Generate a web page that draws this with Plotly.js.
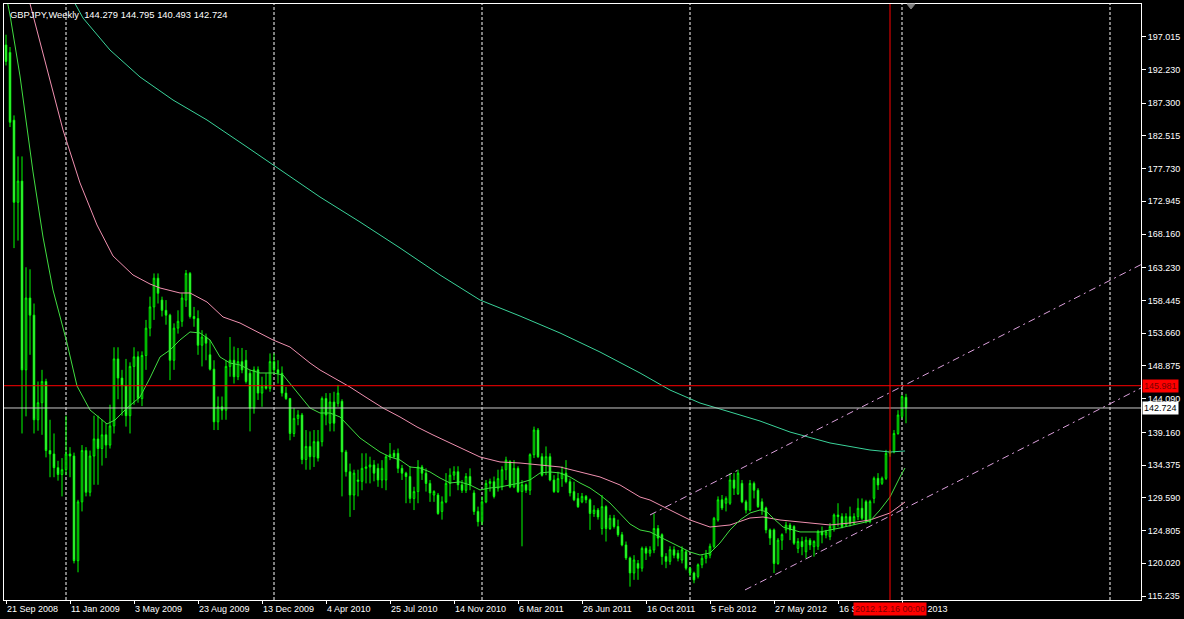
<!DOCTYPE html>
<html>
<head>
<meta charset="utf-8">
<script src="https://cdn.plot.ly/plotly-3.0.1.min.js"></script>
<style>
html,body{margin:0;padding:0;background:#000;}
#chart{width:1184px;height:619px;}
</style>
</head>
<body>
<div id="chart"></div>
<script>
// ---- Weekly GBPJPY candles (bar 0 = week of 21 Sep 2008) ----
const openP = [
195.8,194.7,184.8,172.8,175.9,148.3,158.8,156.3,141.0,143.5,
146.6,136.5,136.0,134.0,133.0,133.7,136.0,135.7,120.4,129.0,
136.5,130.4,135.7,138.2,136.8,138.8,137.3,140.1,149.9,147.1,
146.0,141.6,148.8,150.2,144.1,150.4,154.4,157.5,161.7,158.5,
157.0,156.3,149.7,154.4,155.4,158.5,162.4,156.1,155.8,151.9,
153.1,150.5,148.4,140.7,142.9,142.4,148.8,149.7,147.3,149.5,
149.7,147.8,142.7,148.3,144.9,145.9,145.6,149.5,148.3,147.8,
144.9,144.1,139.0,141.2,141.7,135.2,137.1,135.6,137.8,137.8,
144.1,140.5,143.6,143.4,143.7,136.3,133.4,130.0,132.2,132.0,
133.9,134.1,134.4,133.9,132.2,132.2,135.6,136.1,136.1,133.9,
133.2,132.7,129.5,130.5,134.1,133.2,131.7,130.0,130.0,127.6,
129.0,131.7,132.9,133.4,131.5,130.7,132.7,130.3,127.6,126.1,
129.0,131.7,131.95,131.0,131.2,133.7,134.9,131.2,133.9,130.5,
131.5,130.7,135.9,139.5,135.6,134.4,135.6,132.2,130.5,132.4,
133.2,131.95,130.5,129.5,129.0,129.8,129.3,127.3,127.8,125.1,
128.3,125.1,126.6,125.4,124.2,122.7,120.8,118.6,120.0,119.3,
122.2,121.5,121.97,125.1,124.2,121.0,120.3,122.0,121.5,120.5,
121.7,119.3,118.6,118.1,119.8,120.75,121.2,122.5,126.35,129.3,
128.8,128.8,132.2,130.2,131.7,129.0,127.8,131.7,130.7,129.0,
128.1,124.9,124.9,120.0,123.4,124.9,125.6,125.4,122.2,123.2,
121.7,123.4,122.45,122.5,124.65,124.16,123.9,125.13,127.08,126.84,
125.62,126.84,125.86,126.84,128.06,129.03,126.11,129.52,132.44,131.71,
132.44,136.1,136.3,139.0,141.5,144.279];
const highP = [
197.3,195.5,185.5,179.5,179.5,163.3,163.0,158.0,146.6,148.3,
147.0,141.0,139.0,135.0,135.4,141.6,137.0,136.2,129.3,137.3,
137.0,136.5,141.6,141.6,141.0,140.5,143.2,151.6,151.6,148.3,
149.9,149.4,151.6,151.0,151.0,155.6,159.0,162.4,162.4,159.0,
158.5,156.5,155.1,157.0,159.5,162.9,162.6,157.5,157.0,154.1,
153.6,152.7,149.7,144.4,144.4,149.7,153.1,151.7,151.5,151.5,
151.2,148.3,148.8,148.8,147.3,147.8,150.7,150.7,149.7,148.8,
145.8,144.2,142.7,142.4,142.0,139.5,139.3,139.5,139.5,144.4,
144.9,144.9,145.1,146.1,144.0,136.6,134.6,133.7,133.7,136.1,
136.1,135.6,135.1,134.6,135.1,135.9,137.6,136.6,136.8,134.4,
133.4,134.2,131.2,135.1,134.4,133.9,132.2,130.7,130.3,129.8,
133.2,133.9,134.2,134.2,132.2,133.2,133.9,130.7,128.3,129.8,
132.2,132.4,132.7,133.7,134.2,135.6,135.1,135.1,134.2,132.2,
131.7,136.1,140.0,139.8,136.1,137.1,136.1,132.9,133.4,134.2,
135.1,132.4,131.95,130.3,130.3,130.0,129.5,128.5,128.1,130.0,
128.5,127.1,127.1,126.4,124.6,123.2,121.0,121.2,120.5,122.46,
122.5,122.5,127.3,125.6,124.4,121.5,122.5,122.5,121.97,122.5,
121.97,119.5,118.8,120.0,121.2,121.97,122.9,126.8,129.8,130.0,
129.8,133.2,133.2,133.7,132.2,129.3,132.2,131.97,131.0,129.5,
128.3,125.1,125.1,123.7,124.4,126.1,125.9,125.6,123.7,123.9,
123.9,123.7,123.4,124.9,125.4,124.9,125.9,127.3,128.8,127.33,
127.33,128.3,127.33,129.5,129.5,129.3,129.3,132.7,133.2,132.7,
136.6,136.6,139.5,142.4,144.6,144.795];
const lowP = [
192.8,183.8,166.1,167.2,139.0,141.5,150.5,139.0,139.4,138.8,
135.5,132.6,132.6,132.1,129.8,132.9,132.6,120.0,118.7,127.6,
129.8,129.8,131.5,131.5,134.3,135.4,136.8,139.0,144.0,141.6,
140.0,139.0,143.2,143.5,143.0,148.3,153.2,155.6,158.0,156.1,
154.9,146.8,148.3,153.6,154.6,157.5,155.8,154.6,150.5,148.8,
149.7,148.2,139.5,139.5,141.0,141.0,147.3,146.3,146.8,147.8,
146.3,139.3,141.9,143.9,142.9,145.4,145.1,147.8,146.3,144.4,
143.9,138.0,138.5,140.2,134.5,133.7,133.7,134.1,134.9,137.1,
140.2,139.3,139.3,142.9,129.8,132.7,126.8,127.8,129.8,130.7,
131.7,131.7,132.0,131.2,131.0,130.7,135.1,135.4,133.2,132.2,
128.8,128.8,127.8,128.8,132.2,130.5,129.0,129.0,127.1,126.4,
128.8,129.8,132.2,130.7,130.3,130.3,130.7,127.1,125.4,125.6,
128.8,130.5,129.5,130.5,130.7,132.2,131.0,131.0,130.3,122.5,
130.3,130.0,135.4,135.4,132.7,132.9,132.0,130.3,130.3,131.2,
131.7,129.8,129.1,128.1,128.8,128.8,124.9,126.8,126.4,124.2,
123.2,124.9,125.1,123.9,122.5,120.5,116.6,117.6,117.6,118.8,
120.5,121.0,121.5,122.5,119.8,119.3,119.8,120.75,120.3,120.0,
119.0,118.1,117.1,117.8,119.3,120.0,120.75,122.2,126.1,127.8,
127.6,128.55,130.0,130.0,128.8,127.3,127.6,129.5,128.1,127.1,
124.4,122.7,118.6,119.8,121.97,124.4,123.4,122.7,121.5,121.2,
120.75,121.97,120.99,121.97,122.94,123.67,123.4,124.65,125.38,125.13,
125.38,125.38,125.6,126.35,126.35,125.86,125.86,128.79,130.74,131.47,
132.2,135.6,136.1,138.8,141.2,140.493];
const closeP = [
193.4,184.5,172.8,175.9,148.3,158.8,156.3,141.0,143.5,146.6,
136.5,136.0,134.0,133.0,133.7,136.0,135.7,120.4,129.0,136.5,
130.4,135.7,138.2,136.8,138.8,137.3,140.1,149.9,147.1,146.0,
141.6,148.8,150.2,144.1,150.4,154.4,157.5,161.7,159.5,157.0,
156.3,149.7,154.4,155.4,158.8,162.4,156.1,155.8,151.9,153.1,
152.2,148.4,140.7,142.9,142.4,148.8,149.7,147.3,149.5,148.3,
146.6,142.7,148.3,144.9,145.9,145.6,149.5,148.3,147.8,144.9,
144.1,139.0,141.2,141.7,135.2,137.1,135.6,137.8,135.4,144.1,
141.7,143.6,140.5,144.9,136.3,133.4,130.0,133.2,132.0,133.9,
134.1,134.4,133.2,132.2,133.9,135.6,135.9,135.6,133.9,133.2,
132.7,129.5,130.5,134.1,133.2,131.7,130.3,130.5,127.3,129.0,
131.7,132.9,133.4,131.5,130.7,132.7,131.5,127.6,126.1,129.0,
131.7,131.95,129.8,132.4,133.7,135.1,131.2,133.9,130.5,131.5,
130.7,135.9,139.5,135.6,132.9,135.6,132.2,130.5,132.4,133.2,
131.95,130.3,129.3,128.3,129.8,129.3,127.3,127.8,126.8,128.3,
125.1,126.6,125.4,124.2,122.7,120.8,118.6,120.5,119.3,122.2,
121.5,121.97,125.1,123.7,121.0,120.3,122.0,121.2,120.75,122.0,
119.3,118.6,117.6,119.8,120.75,121.2,122.5,126.6,129.3,128.1,
129.5,132.2,131.0,133.2,129.0,127.8,131.7,130.7,128.3,127.8,
124.9,123.7,120.0,123.4,124.2,125.6,124.9,122.95,123.2,122.45,
123.4,122.7,123.2,124.65,124.16,124.65,125.4,127.08,126.84,125.38,
126.84,125.86,126.84,128.06,126.6,126.11,129.03,132.44,131.47,132.44,
136.1,136.3,139.0,141.7,144.4,142.724];

// ---- Moving averages (bar index, price) ----
const maFastBars = [0.25,1,3.5,6.75,9.25,11.75,15.25,17.75,21,25.25,27.25,30.25,33.5,36,38.5,41,43.5,46,48.5,51,53.5,56,58.5,61,63.5,66.75,69.25,71.75,74.25,76,78.5,81,83.5,86,88.5,91,93.5,96,98.5,101,103.5,106,108.5,111,113.5,116,118.5,121,123.5,126,128.5,131,133.5,136,138.5,141,143.5,146,148.5,151,153.5,156,158.5,161,163.5,166,168.5,171,173.5,176,178.5,181,183.5,186,188.5,190.25,191.75,194.25,198.5,203.5,208.5,213.5,216,218.5,221,223.5,224.75];
const maFastVals = [202.4,200.18,191.26,177.23,167.72,159.97,152.23,145.94,142.43,140.39,140.97,142.72,144.33,147.11,150.18,151.20,152.67,153.84,153.69,152.67,150.18,149.30,149.01,148.28,147.84,147.84,147.55,145.79,143.89,142.72,141.99,141.99,141.41,139.80,138.34,137.31,136.29,135.56,135.12,134.10,133.95,133.37,132.49,131.76,131.91,131.47,130.74,131.03,131.17,131.47,131.76,132.20,133.22,133.37,133.22,132.64,131.76,131.03,130.00,128.83,127.37,125.76,124.89,124.60,123.86,123.13,122.40,121.67,121.23,121.52,122.99,124.89,126.35,127.37,127.81,127.52,126.64,125.32,124.60,124.60,125.18,125.91,126.20,127.81,129.71,132.64,133.95];
const maMidBars = [5.75,6.75,14.25,18.5,22.75,26.75,31.75,36,38.5,43.5,46,50.25,54.25,58.5,62.75,66.75,71,76,78.5,86,90.25,94.25,98.5,102.75,106.75,111,116,118.5,123.5,128.5,133.5,138.5,143.5,148.5,153.5,158.5,161,166,171,176,181,186,189.25,193.5,198.5,206,211,216,221,224.75];
const maMidVals = [202.4,200.18,183.37,175.62,169.48,164.95,162.17,160.85,160.27,159.54,159.54,158.22,156.03,155.15,153.83,152.67,151.64,149.30,148.28,145.79,144.19,142.72,141.41,139.95,138.78,137.61,136.29,135.56,134.83,134.68,134.39,134.10,133.37,132.64,131.47,129.71,129.27,127.81,126.35,125.32,125.62,126.64,126.79,126.35,126.06,125.62,125.91,126.35,127.37,128.98];
const maSlowBars = [16.75,19.25,26,33.5,41.75,50.25,60.25,68.5,78.5,88.5,98.5,108.5,118.5,128.5,138.5,148.5,158.5,166,173.5,181,188.5,196,206,216,221,224.75];
const maSlowVals = [202.4,199.74,195.06,191.12,187.75,184.83,180.88,177.52,173.57,169.92,166.12,162.17,158.51,156.17,153.69,150.91,147.84,145.35,143.45,142.14,140.82,139.21,137.61,136.58,136.29,136.44];

// ---- Channel trend lines (bar index, price) ----
const chanUpperBars = [161, 283.75];
const chanUpperVals = [127.08, 163.69];
const chanLowerBars = [184.75, 283.75];
const chanLowerVals = [116.12, 145.65];

// ---- Axes / labels ----
const titleText = 'GBPJPY,Weekly\u00a0\u00a0144.279 144.795 140.493 142.724';
const dateTickBars = [0,16,32,48,64,80,96,112,128,144,160,176,192,208,224];
const dateTickLabels = ['21 Sep 2008','11 Jan 2009','3 May 2009','23 Aug 2009','13 Dec 2009','4 Apr 2010','25 Jul 2010','14 Nov 2010','6 Mar 2011','26 Jun 2011','16 Oct 2011','5 Feb 2012','27 May 2012','16 Sep 2012','6 Jan 2013'];
const priceTicks = [115.235,120.020,124.805,129.590,134.375,139.160,144.090,148.875,153.660,158.445,163.230,168.160,172.945,177.730,182.515,187.300,192.230,197.015];
const yearSeparatorBars = [15,67,119,171,224,276];
const hLineLevel = 145.981;
const bidLevel = 142.724;
const vLineBar = 221;
const vLineLabel = '2012.12.16 00:00';
const chartShiftBar = 226.25;

const FONT = 'Liberation Sans, Arial, sans-serif';
const bars = openP.map((_, k) => k);

const traces = [
  {
    type: 'candlestick', x: bars, open: openP, high: highP, low: lowP, close: closeP,
    increasing: {line: {color: '#00ff00', width: 1}, fillcolor: '#000000'},
    decreasing: {line: {color: '#00ff00', width: 1}, fillcolor: '#b8ffb8'},
    whiskerwidth: 0, hoverinfo: 'skip', showlegend: false
  },
  {type: 'scatter', mode: 'lines', x: maSlowBars, y: maSlowVals, line: {color: '#3ad39a', width: 1}, hoverinfo: 'skip', showlegend: false},
  {type: 'scatter', mode: 'lines', x: maMidBars, y: maMidVals, line: {color: '#f090b0', width: 1}, hoverinfo: 'skip', showlegend: false},
  {type: 'scatter', mode: 'lines', x: maFastBars, y: maFastVals, line: {color: '#40dd40', width: 1}, hoverinfo: 'skip', showlegend: false},
  {type: 'scatter', mode: 'lines', x: chanUpperBars, y: chanUpperVals, line: {color: '#dca0dc', width: 1, dash: '7px,4px,2px,4px'}, hoverinfo: 'skip', showlegend: false},
  {type: 'scatter', mode: 'lines', x: chanLowerBars, y: chanLowerVals, line: {color: '#dca0dc', width: 1, dash: '7px,4px,2px,4px'}, hoverinfo: 'skip', showlegend: false}
];

const shapes = [];
yearSeparatorBars.forEach(b => shapes.push({
  type: 'line', xref: 'x', yref: 'paper', x0: b, x1: b, y0: 0, y1: 1,
  line: {color: '#ffffff', width: 1, dash: '3px,2px'}, layer: 'below'
}));
shapes.push({type: 'line', xref: 'paper', yref: 'y', x0: 0, x1: 1, y0: bidLevel, y1: bidLevel, line: {color: '#c8c8c8', width: 1}, layer: 'above'});
shapes.push({type: 'line', xref: 'paper', yref: 'y', x0: 0, x1: 1, y0: hLineLevel, y1: hLineLevel, line: {color: '#ff0000', width: 1}, layer: 'above'});
shapes.push({type: 'line', xref: 'x', yref: 'paper', x0: vLineBar, x1: vLineBar, y0: 0, y1: 1, line: {color: '#ff0000', width: 1}, layer: 'above'});
shapes.push({type: 'path', xref: 'x', yref: 'paper',
  path: 'M ' + (chartShiftBar - 1) + ',1 L ' + (chartShiftBar + 1) + ',1 L ' + chartShiftBar + ',0.9916 Z',
  fillcolor: '#808080', line: {color: '#808080', width: 1}, layer: 'above'});

const annotations = [
  {xref: 'paper', yref: 'paper', x: 0, y: 1, xanchor: 'left', yanchor: 'top', xshift: 4, yshift: -3,
   text: titleText, showarrow: false, font: {family: FONT, size: 9.4, color: '#ffffff'}},
  {xref: 'paper', yref: 'y', x: 1, y: hLineLevel, xanchor: 'left', yanchor: 'middle', xshift: 1,
   text: hLineLevel.toFixed(3), showarrow: false, bgcolor: '#ff0000', borderpad: 1,
   font: {family: FONT, size: 9, color: '#7a0000'}},
  {xref: 'paper', yref: 'y', x: 1, y: bidLevel, xanchor: 'left', yanchor: 'middle', xshift: 1,
   text: bidLevel.toFixed(3), showarrow: false, bgcolor: '#ffffff', borderpad: 1,
   font: {family: FONT, size: 9, color: '#000000'}},
  {xref: 'x', yref: 'paper', x: vLineBar, y: 0, xanchor: 'center', yanchor: 'top', yshift: -2,
   text: vLineLabel, showarrow: false, bgcolor: '#ff0000', borderpad: 1,
   font: {family: FONT, size: 9, color: '#7a0000'}}
];

const layout = {
  width: 1184, height: 619,
  paper_bgcolor: '#000000', plot_bgcolor: '#000000',
  margin: {l: 4, r: 43, t: 4, b: 19, pad: 0},
  showlegend: false,
  boxgap: 0.45,
  font: {family: FONT, size: 9, color: '#ffffff'},
  xaxis: {
    type: 'linear', range: [-0.5, 283.75], autorange: false,
    rangeslider: {visible: false},
    showgrid: false, zeroline: false,
    showline: true, linecolor: '#ffffff', linewidth: 1, mirror: true,
    ticks: 'outside', ticklen: 3, tickcolor: '#ffffff', tickwidth: 1,
    tickmode: 'array', tickvals: dateTickBars, ticktext: dateTickLabels,
    ticklabelposition: 'outside right',
    tickfont: {family: FONT, size: 9, color: '#ffffff'},
    automargin: false, fixedrange: true
  },
  yaxis: {
    side: 'right', range: [114.65, 201.79], autorange: false,
    showgrid: false, zeroline: false,
    showline: true, linecolor: '#ffffff', linewidth: 1, mirror: true,
    ticks: 'outside', ticklen: 4, tickcolor: '#ffffff', tickwidth: 1,
    tickmode: 'array', tickvals: priceTicks, ticktext: priceTicks.map(v => v.toFixed(3)),
    tickfont: {family: FONT, size: 9, color: '#ffffff'},
    automargin: false, fixedrange: true
  },
  shapes: shapes,
  annotations: annotations
};

Plotly.newPlot('chart', traces, layout, {staticPlot: true, displayModeBar: false});
</script>
</body>
</html>
